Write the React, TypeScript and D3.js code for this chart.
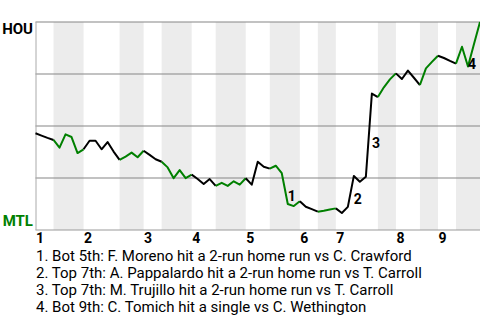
import React from "react";
import * as d3 from "d3";

// HOU win probability (%) after each plate appearance
const houWinPct = [
  46.5, 45.4, 44.3, 43.3, 39.6, 46.0, 44.7, 37.0, 38.8, 42.9,
  42.9, 38.8, 42.3, 37.7, 33.7, 35.3, 37.2, 35.0, 38.1, 36.1,
  34.0, 32.8, 30.1, 24.9, 28.8, 24.9, 26.6, 24.5, 22.1, 24.5,
  21.2, 22.7, 21.2, 23.4, 21.8, 24.9, 21.8, 32.8, 30.4, 29.5,
  30.9, 27.3, 12.5, 11.5, 13.8, 11.2, 10.0, 8.8, 9.3, 9.9,
  10.4, 8.2, 11.1, 26.0, 23.2, 25.6, 65.6, 63.9, 68.6, 72.4,
  75.3, 72.6, 76.6, 73.2, 69.7, 77.7, 80.8, 83.8, 82.7, 81.3,
  80.0, 88.1, 78.6, 89.4, 100,
];

// index where each half-inning starts (top 1st, bot 1st, top 2nd, ...)
const halfInningStarts = [0, 3, 8, 14, 18, 21, 26, 30, 35, 39, 44, 47, 50, 57, 60, 64, 67, 70];
const innings = ["1", "2", "3", "4", "5", "6", "7", "8", "9"];

const eventIndex = [42, 53, 56, 72];
const eventTexts = [
  "1. Bot 5th: F. Moreno hit a 2-run home run vs C. Crawford",
  "2. Top 7th: A. Pappalardo hit a 2-run home run vs T. Carroll",
  "3. Top 7th: M. Trujillo hit a 2-run home run vs T. Carroll",
  "4. Bot 9th: C. Tomich hit a single vs C. Wethington",
];

const yTicks = [0.25, 0.5, 0.75, 1];
const teamTop = "HOU";
const teamBottom = "MTL";

const W = 480;
const H = 320;
const GREEN = "#008000";
const FONT = "Roboto, sans-serif";

export default function App() {
  const n = houWinPct.length - 1;
  const x = d3.scaleLinear().domain([0, n]).range([35.5, 480]);
  const y = d3.scaleLinear().domain([0, 1]).range([230, 22]);
  const ends = [...halfInningStarts.slice(1), n];

  const segs = halfInningStarts.map((s, k) => {
    const e = ends[k];
    const pts: [number, number][] = [];
    for (let i = s; i <= e; i++) pts.push([x(i), y(houWinPct[i] / 100)]);
    const path = d3.line()(pts) || "";
    return { k, path, s, e };
  });

  return (
    <svg
      width={W}
      height={H}
      style={{ position: "absolute", left: 0, top: 0, background: "#fff" }}
      fontFamily={FONT}
    >
      {segs
        .filter((d) => d.k % 2 === 1)
        .map((d) => (
          <rect
            key={"b" + d.k}
            x={x(d.s)}
            y={y(1)}
            width={x(d.e) - x(d.s)}
            height={y(0) - y(1)}
            fill="#ececec"
          />
        ))}
      {yTicks.map((t) => (
        <line key={t} x1={x(0)} x2={W} y1={y(t)} y2={y(t)} stroke="#858585" strokeWidth={1.2} />
      ))}
      <line x1={x(0)} x2={W} y1={y(0)} y2={y(0)} stroke="#9a9a9a" strokeWidth={1} />
      <line x1={x(0) + 0.5} x2={x(0) + 0.5} y1={y(1)} y2={y(0)} stroke="#aaaaaa" strokeWidth={1} />

      {segs.map((d) => (
        <path
          key={"l" + d.k}
          d={d.path}
          fill="none"
          stroke={d.k % 2 === 1 ? GREEN : "#000"}
          strokeWidth={2}
          strokeLinejoin="round"
        />
      ))}

      {eventIndex.map((idx, i) => {
        const mid = (houWinPct[idx - 1] + houWinPct[idx]) / 200;
        return (
          <text key={"e" + i} x={x(idx)} y={y(mid) + 12.5} fontSize={14} fontWeight="bold" fill="#000">
            {i + 1}
          </text>
        );
      })}

      <text x={33} y={34} textAnchor="end" fontSize={15} fontWeight="bold" fill="#000">
        {teamTop}
      </text>
      <text x={33} y={226} textAnchor="end" fontSize={15} fontWeight="bold" fill={GREEN}>
        {teamBottom}
      </text>

      {innings.map((lab, i) => (
        <text key={"i" + i} x={x(halfInningStarts[i * 2]) + 0.5} y={243} fontSize={14} fontWeight="bold" fill="#000">
          {lab}
        </text>
      ))}

      {eventTexts.map((t, i) => (
        <text key={"t" + i} x={36} y={260.5 + i * 17.3} fontSize={15} fill="#000">
          {t}
        </text>
      ))}
    </svg>
  );
}
